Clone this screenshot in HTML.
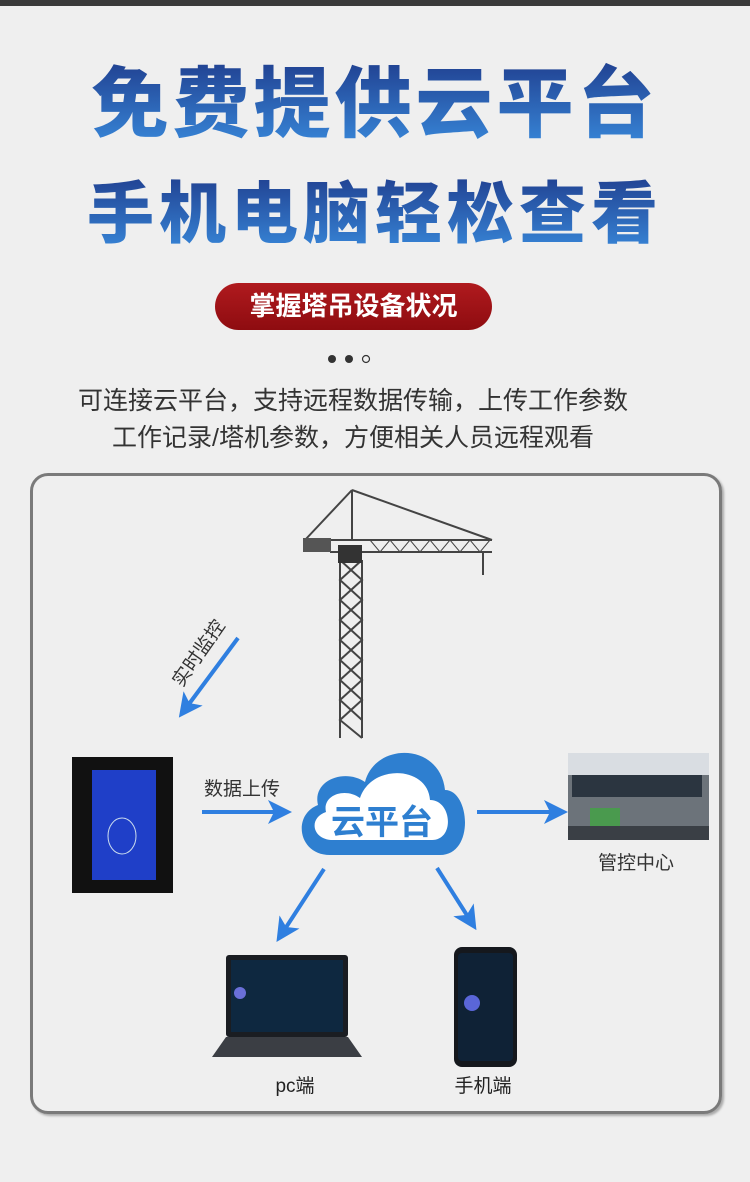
<!DOCTYPE html>
<html><head><meta charset="utf-8"><style>
body{margin:0;width:750px;height:1182px;background:#efefef;font-family:"Liberation Sans","Noto Sans CJK SC",sans-serif;overflow:hidden;position:relative}
.bar{position:absolute;left:0;top:0;width:750px;height:6px;background:#3a3a3a}
.t{position:absolute;left:0;width:750px;text-align:center;font-weight:900;background:linear-gradient(#1f3c8c,#3a8ee0);-webkit-background-clip:text;background-clip:text;color:transparent;white-space:nowrap}
.pill{position:absolute;left:215px;top:283px;width:277px;height:47px;border-radius:24px;background:linear-gradient(#b01a1e,#8e0c10);color:#fff;font-size:26px;font-weight:bold;text-align:center;line-height:46px}
.p{position:absolute;left:-22px;width:750px;text-align:center;font-size:25px;color:#333}
.box{position:absolute;left:30px;top:473px;width:686px;height:635px;border:3px solid #7a7a7a;border-radius:18px;box-shadow:2px 2px 2px #aaa}
</style></head><body>
<div class="bar"></div>
<div class="t" style="top:55px;font-size:77px;line-height:100px;letter-spacing:4px">免费提供云平台</div>
<div class="t" style="top:170px;font-size:67px;line-height:90px;letter-spacing:5px">手机电脑轻松查看</div>
<div class="pill">掌握塔吊设备状况</div>
<svg style="position:absolute;left:0;top:0" width="750" height="1182">
<circle cx="332" cy="359" r="4" fill="#333"/><circle cx="349" cy="359" r="4" fill="#333"/><circle cx="366" cy="359" r="3.5" fill="none" stroke="#333" stroke-width="1.2"/>
</svg>
<div class="p" style="top:381px">可连接云平台，支持远程数据传输，上传工作参数</div>
<div class="p" style="top:418px">工作记录/塔机参数，方便相关人员远程观看</div>
<div class="box"></div>
<svg style="position:absolute;left:0;top:0" width="750" height="1182">
<defs><marker id="a" markerWidth="6" markerHeight="6" refX="3" refY="3" orient="auto"><path d="M0,0L6,3L0,6L1.5,3z" fill="#2f7fe0"/></marker></defs>
<g stroke="#444" stroke-width="2" fill="none">
<path d="M340 738V560M362 738V560"/>
<path d="M340 560L362 580L340 600L362 620L340 640L362 660L340 680L362 700L340 720L362 738"/>
<path d="M362 560L340 580L362 600L340 620L362 640L340 660L362 680L340 700L362 720"/>
<path d="M305 540H492M330 552H492M352 490V540M352 490L305 540M352 490L492 540"/>
<path d="M370 540L380 552L390 540L400 552L410 540L420 552L430 540L440 552L450 540L460 552L470 540L480 552L490 540" stroke-width="1"/>
<path d="M483 552V575"/>
</g>
<rect x="303" y="538" width="28" height="14" fill="#555"/>
<rect x="338" y="545" width="24" height="18" fill="#333"/>
<rect x="72" y="757" width="101" height="136" fill="#111"/>
<rect x="92" y="770" width="64" height="110" fill="#1f3fc8"/>
<ellipse cx="122" cy="836" rx="14" ry="18" fill="none" stroke="#cde" stroke-width="1"/>
<rect x="568" y="753" width="141" height="87" fill="#6c737a"/>
<rect x="568" y="753" width="141" height="22" fill="#d9dde2"/>
<rect x="572" y="775" width="130" height="22" fill="#2b3540"/>
<rect x="590" y="808" width="30" height="18" fill="#4a9a4e"/>
<rect x="568" y="826" width="141" height="14" fill="#3a3f45"/>
<path d="M330 855C298 855 292 815 318 805C312 780 345 768 365 782C375 742 440 742 445 790C470 790 475 855 440 855Z" fill="#2e7fd0"/>
<path d="M333 840C312 840 308 818 326 812C322 795 345 787 360 798C372 763 428 766 430 800C452 800 455 840 432 840Z" fill="#fff"/>
<text x="382" y="834" font-size="34" font-weight="bold" fill="#2e7fd0" text-anchor="middle" font-family="Liberation Sans,Noto Sans CJK SC,sans-serif">云平台</text>
<g stroke="#2f7fe0" stroke-width="4" marker-end="url(#a)">
<line x1="238" y1="638" x2="186" y2="708"/>
<line x1="202" y1="812" x2="280" y2="812"/>
<line x1="477" y1="812" x2="556" y2="812"/>
<line x1="324" y1="869" x2="283" y2="932"/>
<line x1="437" y1="868" x2="470" y2="920"/>
</g>
<text x="0" y="0" transform="translate(182,688) rotate(-55)" font-size="19" fill="#333" font-family="Liberation Sans,Noto Sans CJK SC,sans-serif">实时监控</text>
<text x="204" y="795" font-size="19" fill="#333" font-family="Liberation Sans,Noto Sans CJK SC,sans-serif">数据上传</text>
<text x="598" y="869" font-size="19" fill="#333" font-family="Liberation Sans,Noto Sans CJK SC,sans-serif">管控中心</text>
<rect x="226" y="955" width="122" height="82" rx="3" fill="#1a1d22"/>
<rect x="231" y="960" width="112" height="72" fill="#0e2840"/>
<circle cx="240" cy="993" r="6" fill="#6a6fd8"/>
<path d="M226 1037H348L362 1057H212Z" fill="#3b3e44"/>
<rect x="454" y="947" width="63" height="120" rx="8" fill="#15181d"/>
<rect x="458" y="953" width="55" height="108" rx="4" fill="#0f2236"/>
<circle cx="472" cy="1003" r="8" fill="#5a66d8"/>
<text x="295" y="1092" font-size="19" fill="#222" text-anchor="middle" font-family="Liberation Sans,Noto Sans CJK SC,sans-serif">pc端</text>
<text x="483" y="1092" font-size="19" fill="#222" text-anchor="middle" font-family="Liberation Sans,Noto Sans CJK SC,sans-serif">手机端</text>
</svg>
</body></html>
